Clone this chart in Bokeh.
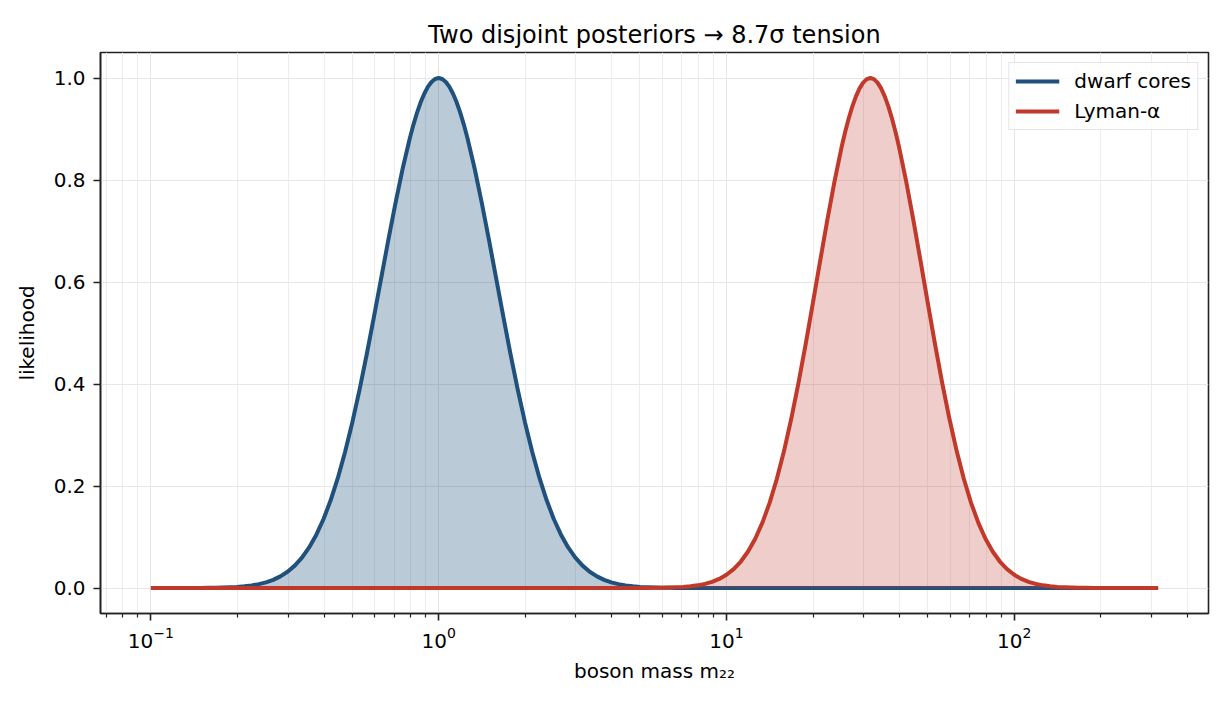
from bokeh.plotting import figure
from bokeh.models import Range1d, FixedTicker, PrintfTickFormatter
from bokeh.embed import file_html
from bokeh.resources import INLINE

# ---- data ----
series_names = ["dwarf cores", "Lyman-α"]

dwarf_log_m = [-1.0, -0.9, -0.875, -0.85, -0.825, -0.8, -0.775, -0.75, -0.725, -0.7, -0.675,
               -0.65, -0.625, -0.6, -0.575, -0.55, -0.525, -0.5, -0.475, -0.45, -0.425, -0.4,
               -0.375, -0.35, -0.325, -0.3, -0.275, -0.25, -0.225, -0.2, -0.175, -0.15, -0.125,
               -0.1, -0.0875, -0.075, -0.0625, -0.05, -0.0375, -0.025, -0.0125, 0.0,
               0.0125, 0.025, 0.0375, 0.05, 0.0625, 0.075, 0.0875, 0.1, 0.125, 0.15, 0.175,
               0.2, 0.225, 0.25, 0.275, 0.3, 0.325, 0.35, 0.375, 0.4, 0.425, 0.45, 0.475, 0.5,
               0.525, 0.55, 0.575, 0.6, 0.625, 0.65, 0.675, 0.7, 0.725, 0.75, 0.775, 0.8, 0.825,
               0.85, 0.875, 0.9, 2.5]
dwarf_like = [0.0, 0.0, 0.0001, 0.0001, 0.0002, 0.0003, 0.0006, 0.0009, 0.0014, 0.0022, 0.0034,
              0.0051, 0.0076, 0.0111, 0.0160, 0.0228, 0.0319, 0.0439, 0.0596, 0.0796, 0.1046,
              0.1353, 0.1724, 0.2163, 0.2670, 0.3247, 0.3885, 0.4578, 0.5311, 0.6065, 0.6819,
              0.7548, 0.8226, 0.8825, 0.9087, 0.9321, 0.9523, 0.9692, 0.9826, 0.9922, 0.9980,
              1.0,
              0.9980, 0.9922, 0.9826, 0.9692, 0.9523, 0.9321, 0.9087, 0.8825, 0.8226, 0.7548,
              0.6819, 0.6065, 0.5311, 0.4578, 0.3885, 0.3247, 0.2670,
              0.2163, 0.1724, 0.1353, 0.1046, 0.0796, 0.0596, 0.0439, 0.0319, 0.0228, 0.0160,
              0.0111, 0.0076, 0.0051, 0.0034, 0.0022, 0.0014, 0.0009, 0.0006, 0.0003, 0.0002,
              0.0001, 0.0001, 0.0, 0.0]

lyman_log_m = [-1.0, 0.65, 0.675, 0.7, 0.725, 0.75, 0.775, 0.8, 0.825, 0.85, 0.875, 0.9, 0.925,
               0.95, 0.975, 1.0, 1.025, 1.05, 1.075, 1.1, 1.125, 1.15, 1.175, 1.2, 1.225, 1.25,
               1.275, 1.3, 1.325, 1.35, 1.375, 1.4, 1.4125, 1.425, 1.4375, 1.45, 1.4625, 1.475,
               1.4875, 1.5, 1.5125, 1.525, 1.5375, 1.55, 1.5625, 1.575, 1.5875,
               1.6, 1.625, 1.65, 1.675, 1.7, 1.725, 1.75, 1.775, 1.8, 1.825, 1.85, 1.875, 1.9,
               1.925, 1.95, 1.975, 2.0, 2.025, 2.05, 2.075, 2.1, 2.125, 2.15, 2.175, 2.2, 2.225,
               2.25, 2.275, 2.3, 2.325, 2.35, 2.5]
lyman_like = [0.0, 0.0, 0.0, 0.0001, 0.0002, 0.0003, 0.0005, 0.0008, 0.0013, 0.0021, 0.0033,
              0.0052, 0.0080, 0.0120, 0.0178, 0.0259, 0.0370, 0.0519, 0.0715, 0.0966, 0.1282,
              0.1670, 0.2137, 0.2685, 0.3313, 0.4013, 0.4773, 0.5575, 0.6393, 0.7199, 0.7959,
              0.8641, 0.8942, 0.9211, 0.9445, 0.9641, 0.9797, 0.9909, 0.9977,
              1.0,
              0.9977, 0.9909, 0.9797, 0.9641, 0.9445, 0.9211, 0.8942, 0.8641, 0.7959,
              0.7199, 0.6393, 0.5575, 0.4773, 0.4013, 0.3313, 0.2685, 0.2137, 0.1670, 0.1282,
              0.0966, 0.0715, 0.0519, 0.0370, 0.0259, 0.0178, 0.0120, 0.0080, 0.0052, 0.0033,
              0.0021, 0.0013, 0.0008, 0.0005, 0.0003, 0.0002, 0.0001, 0.0, 0.0, 0.0]

x_major_ticks = [0.1, 1, 10, 100]
x_minor_ticks = [0.07, 0.08, 0.09, 0.2, 0.3, 0.4, 0.5, 0.6, 0.7, 0.8, 0.9,
                 2, 3, 4, 5, 6, 7, 8, 9, 20, 30, 40, 50, 60, 70, 80, 90, 200, 300, 400]
y_ticks = [0.0, 0.2, 0.4, 0.6, 0.8, 1.0]

title_text = "Two disjoint posteriors → 8.7σ tension"
x_label = "boson mass m₂₂"
y_label = "likelihood"

BLUE = "#1f517c"
RED = "#c0392b"
FONT = "DejaVu Sans"

dwarf_m = [10 ** v for v in dwarf_log_m]
lyman_m = [10 ** v for v in lyman_log_m]

p = figure(width=1222, height=697, x_axis_type="log",
           x_range=Range1d(10 ** -1.175, 10 ** 2.675), y_range=Range1d(-0.05, 1.05),
           output_backend="svg", toolbar_location=None,
           min_border_left=100, min_border_right=14, min_border_top=52, min_border_bottom=84)

p.title.text = title_text
p.title.align = "center"
p.title.text_font = FONT
p.title.text_font_size = "24px"
p.title.text_font_style = "normal"
p.title.text_color = "black"
p.title.standoff = 8

p.varea(x=dwarf_m, y1=0, y2=dwarf_like, fill_color=BLUE, fill_alpha=0.3)
p.line(dwarf_m, dwarf_like, line_color=BLUE, line_width=4, line_join="round",
       legend_label=series_names[0])
p.varea(x=lyman_m, y1=0, y2=lyman_like, fill_color=RED, fill_alpha=0.25)
p.line(lyman_m, lyman_like, line_color=RED, line_width=4, line_join="round",
       legend_label=series_names[1])

p.xaxis.ticker = FixedTicker(ticks=x_major_ticks, minor_ticks=x_minor_ticks)
p.yaxis.ticker = FixedTicker(ticks=y_ticks)
p.yaxis.formatter = PrintfTickFormatter(format="%.1f")

p.xaxis.axis_label = x_label
p.yaxis.axis_label = y_label

for ax in (p.xaxis, p.yaxis):
    ax.axis_label_text_font = FONT
    ax.axis_label_text_font_size = "20px"
    ax.axis_label_text_font_style = "normal"
    ax.axis_label_text_color = "black"
    ax.major_label_text_font = FONT
    ax.major_label_text_font_size = "20px"
    ax.major_label_text_color = "black"
    ax.axis_line_color = "#222222"
    ax.axis_line_width = 1.6
    ax.major_tick_line_color = "#222222"
    ax.major_tick_line_width = 1.6
    ax.major_tick_in = 0
    ax.major_tick_out = 7
    ax.minor_tick_line_color = "#222222"
    ax.minor_tick_line_width = 1.2
    ax.minor_tick_in = 0
    ax.minor_tick_out = 4

p.yaxis.minor_tick_line_color = None
p.xaxis.major_label_standoff = 6
p.yaxis.major_label_standoff = 8
p.xaxis.axis_label_standoff = 8
p.yaxis.axis_label_standoff = 12

p.outline_line_color = "#222222"
p.outline_line_width = 1.6
p.outline_line_alpha = 1.0

p.xgrid.grid_line_color = "#e6e6e6"
p.xgrid.minor_grid_line_color = "#ededed"
p.ygrid.grid_line_color = "#e6e6e6"

lg = p.legend[0]
lg.location = "top_right"
lg.margin = 10
lg.padding = 6
lg.spacing = 6
lg.glyph_width = 44
lg.glyph_height = 20
lg.label_height = 20
lg.label_standoff = 15
lg.label_text_font = FONT
lg.label_text_font_size = "20px"
lg.label_text_color = "black"
lg.border_line_color = "#cccccc"
lg.border_line_width = 1.5
lg.background_fill_alpha = 0.8

open("out.html", "w").write(file_html(p, INLINE))
